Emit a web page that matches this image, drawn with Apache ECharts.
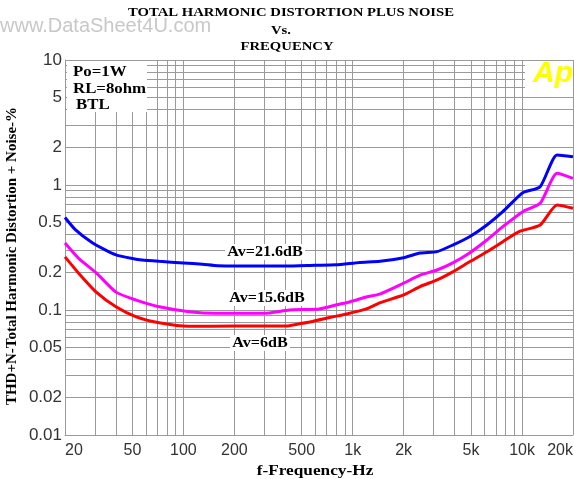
<!DOCTYPE html>
<html><head><meta charset="utf-8">
<script src="https://cdn.jsdelivr.net/npm/echarts@6/dist/echarts.min.js"></script>
<style>html,body{margin:0;padding:0;background:#fff}#c{width:574px;height:479px}</style>
</head><body><div id="c"></div>
<script>
// ---- data (frequency Hz, THD+N %) ----
var blueFreq = [20,23,29,35,40,50,57,72,100,130,160,250,400,600,800,1100,1450,2000,2500,3150,3900,4900,6200,7700,10100,12800,16100,20000];
var blueThd  = [0.55,0.44,0.345,0.30,0.276,0.258,0.251,0.245,0.238,0.232,0.226,0.225,0.225,0.228,0.230,0.240,0.245,0.262,0.286,0.293,0.331,0.386,0.479,0.612,0.868,0.97,1.74,1.68];
var magFreq  = [20,24,30.6,40,52.7,72,108,156,300,423,637,804,958,1206,1444,2000,2500,3150,3900,4900,6200,7700,10100,12800,16100,20000];
var magThd   = [0.343,0.26,0.198,0.139,0.12,0.106,0.097,0.094,0.094,0.100,0.102,0.110,0.116,0.127,0.134,0.164,0.19,0.209,0.238,0.286,0.363,0.464,0.612,0.714,1.24,1.13];
var redFreq  = [20,24,30.6,40,52.7,72,108,200,407,470,580,730,922,1206,1444,2000,2500,3150,3900,4900,6200,7700,9600,12800,16100,20000];
var redThd   = [0.266,0.198,0.139,0.106,0.088,0.079,0.074,0.0744,0.0744,0.077,0.081,0.087,0.093,0.102,0.114,0.132,0.154,0.174,0.202,0.243,0.292,0.352,0.424,0.479,0.692,0.651];
var seriesNames = ['Av=21.6dB','Av=15.6dB','Av=6dB'];
var xTickLabels = [20,50,100,200,500,1000,2000,5000,10000,20000];
var yTickLabels = [0.01,0.02,0.05,0.1,0.2,0.5,1,2,5,10];
var xGridLines = [20,30,40,50,60,70,80,90,100,200,300,400,500,600,700,800,900,1000,2000,3000,4000,5000,6000,7000,8000,9000,10000,20000];
var yGridLines = [0.01,0.02,0.03,0.04,0.05,0.06,0.07,0.08,0.09,0.1,0.2,0.3,0.4,0.5,0.6,0.7,0.8,0.9,1,2,3,4,5,6,7,8,9,10];

function pairs(xs, ys){ return xs.map(function(x,i){ return [x, ys[i]]; }); }

var chart = echarts.init(document.getElementById('c'), null, {renderer:'canvas'});
var sans = 'Liberation Sans';
var gridColor = '#9a9a9a';

function serifText(txt, x, y, size, sx, align, rot) {
  return { type: 'text', x: x, y: y, z: 11, scaleX: sx, rotation: rot || 0,
    style: { text: txt, font: 'bold ' + size + 'px Liberation Serif', fill: '#000', align: align || 'center', verticalAlign: 'middle' } };
}

chart.setOption({
  backgroundColor: '#fff',
  animation: false,
  grid: { left: 65, right: 1, top: 60, bottom: 44, containLabel: false, outerBoundsMode: 'none' },
  xAxis: {
    type: 'log', logBase: 10, min: 20, max: 20000,
    axisLine: { show: true, lineStyle: { color: gridColor, width: 1 } },
    axisTick: { show: false, customValues: xGridLines },
    splitLine: { show: true, lineStyle: { color: gridColor, width: 1 } },
    minorSplitLine: { show: false },
    axisLabel: {
      customValues: xTickLabels, margin: 8,
      fontFamily: sans, fontSize: 16, color: '#333',
      alignMinLabel: 'left', alignMaxLabel: 'right',
      formatter: function(v){ return v >= 1000 ? (v/1000) + 'k' : String(v); }
    }
  },
  yAxis: {
    type: 'log', logBase: 10, min: 0.01, max: 10,
    axisLine: { show: true, lineStyle: { color: gridColor, width: 1 } },
    axisTick: { show: false, customValues: yGridLines },
    splitLine: { show: true, lineStyle: { color: gridColor, width: 1 } },
    axisLabel: {
      customValues: yTickLabels, margin: 3,
      fontFamily: sans, fontSize: 17, color: '#333',
      formatter: function(v){ return String(v); }
    }
  },
  series: [
    { name: seriesNames[0], type: 'line', data: pairs(blueFreq, blueThd), showSymbol: false, smooth: 0.2,
      lineStyle: { color: '#0000ff', width: 3 }, itemStyle: { color: '#0000ff' } },
    { name: seriesNames[1], type: 'line', data: pairs(magFreq, magThd), showSymbol: false, smooth: 0.2,
      lineStyle: { color: '#ff00ff', width: 3 }, itemStyle: { color: '#ff00ff' } },
    { name: seriesNames[2], type: 'line', data: pairs(redFreq, redThd), showSymbol: false, smooth: 0.2,
      lineStyle: { color: '#ff0000', width: 3 }, itemStyle: { color: '#ff0000' } }
  ],
  graphic: [
    { type: 'text', left: 0, top: 16, style: { text: 'www.DataSheet4U.com', font: '20px Liberation Sans', fill: '#c8c8c8' } },
    serifText('TOTAL HARMONIC DISTORTION PLUS NOISE', 291, 13, 13, 1.13),
    serifText('Vs.', 281, 31, 13, 1.13),
    serifText('FREQUENCY', 287, 47, 13, 1.13),
    serifText('f-Frequency-Hz', 315, 471, 15, 1.15),
    serifText('THD+N-Total Harmonic Distortion + Noise-%', 12, 256, 15, 1, 'center', Math.PI / 2),
    { type: 'rect', shape: { x: 67, y: 61, width: 80, height: 51 }, style: { fill: '#fff' }, z: 10 },
    serifText('Po=1W', 73, 72, 14, 1.2, 'left'),
    serifText('RL=8ohm', 73, 89, 14, 1.2, 'left'),
    serifText('BTL', 76, 105, 14, 1.2, 'left'),
    { type: 'rect', shape: { x: 525, y: 61, width: 48, height: 33 }, style: { fill: '#fff' }, z: 10 },
    { type: 'text', x: 553, y: 74, z: 11, style: { text: 'Ap', font: 'italic bold 30px Liberation Sans', fill: '#ffff00', align: 'center', verticalAlign: 'middle' } },
    { type: 'rect', shape: { x: 225, y: 244, width: 80, height: 16 }, style: { fill: '#fff' }, z: 10 },
    serifText('Av=21.6dB', 265, 252, 14, 1.15),
    { type: 'rect', shape: { x: 228, y: 290, width: 80, height: 16 }, style: { fill: '#fff' }, z: 10 },
    serifText('Av=15.6dB', 267, 298, 14, 1.15),
    { type: 'rect', shape: { x: 230, y: 335, width: 60, height: 16 }, style: { fill: '#fff' }, z: 10 },
    serifText('Av=6dB', 260, 343, 14, 1.15)
  ]
});
</script>
</body></html>
